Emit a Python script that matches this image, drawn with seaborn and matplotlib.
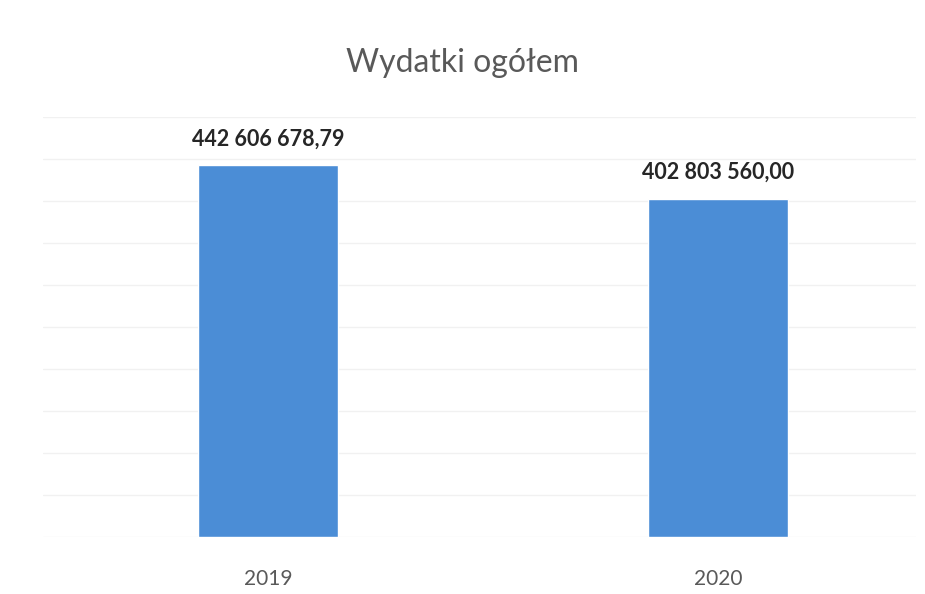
import matplotlib
matplotlib.use("Agg")
import matplotlib.pyplot as plt
import seaborn as sns
import pandas as pd

# dane
lata = ["2019", "2020"]
wydatki = [442606678.79, 402803560.00]
tytul = "Wydatki ogółem"

df = pd.DataFrame({"rok": lata, "wydatki": wydatki})

sns.set_theme(style="white")
plt.rcParams["font.family"] = ["Lato", "DejaVu Sans"]

fig = plt.figure(figsize=(9.25, 5.94), dpi=100)
ax = fig.add_axes([43 / 925, 57 / 594, (916 - 43) / 925, 420 / 594])

sns.barplot(data=df, x="rok", y="wydatki", color="#4b8dd6", width=0.31,
            saturation=1, ax=ax)

ax.set_xlim(-0.5, 1.44)
ax.set_ylim(0, 500e6)
ax.set_yticks([i * 50e6 for i in range(11)])
ax.yaxis.grid(True, color="#f1f1f1", linewidth=1)
ax.set_axisbelow(True)
ax.tick_params(axis="y", left=False, labelleft=False)
ax.tick_params(axis="x", bottom=False, colors="#595959", labelsize=15, pad=17)
for s in ax.spines.values():
    s.set_visible(False)
ax.set_xlabel("")
ax.set_ylabel("")

def fmt(v):
    return f"{v:,.2f}".replace(",", " ").replace(".", ",")

for i, v in enumerate(wydatki):
    ax.annotate(fmt(v), (i, v), xytext=(0, 19), textcoords="offset points",
                ha="center", va="center", fontsize=15.5, fontweight="bold",
                color="#262626")

fig.text(0.5, 1 - 63 / 594, tytul, ha="center", va="center",
         fontsize=23, color="#595959")

fig.savefig("out.png", dpi=100, facecolor="white")
